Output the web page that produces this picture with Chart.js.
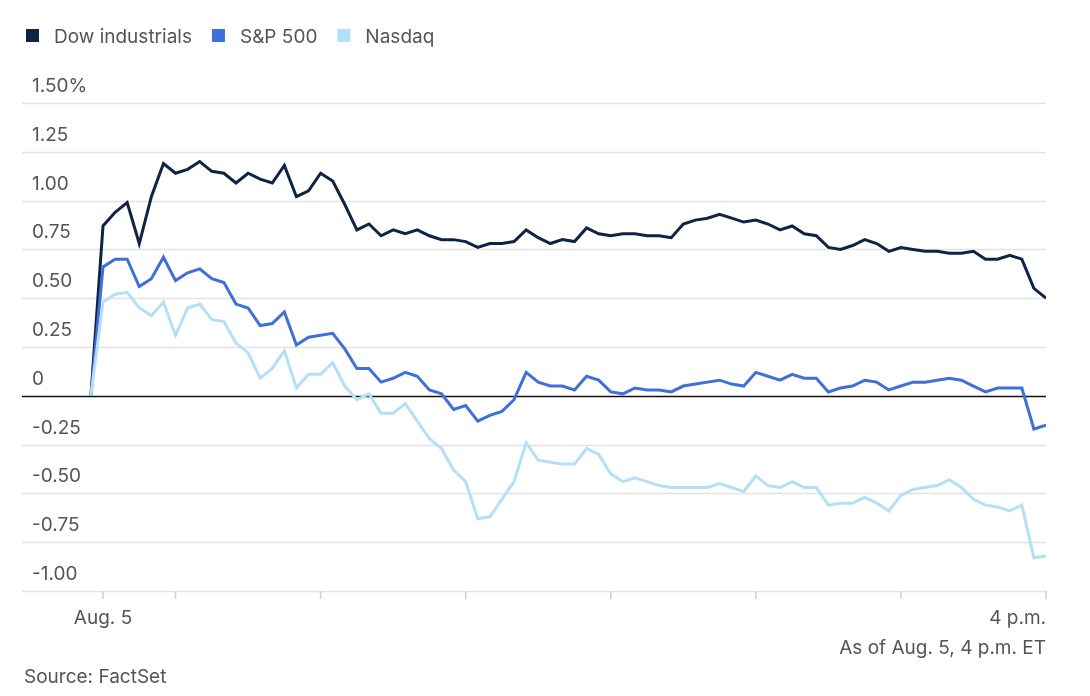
<!DOCTYPE html>
<html lang="en">
  <head>
    <meta charset="UTF-8" />
    <title>Dow, S&amp;P 500, Nasdaq - Aug. 5</title>
    <script src="https://cdn.jsdelivr.net/npm/chart.js"></script>
    <style>
      body { margin: 0; background: #fff; }
      canvas { display: block; }
    </style>
  </head>
  <body>
    <canvas id="markets" width="1090" height="696"></canvas>

    <script>
      // minutes after midnight, 5-minute steps from 9:25 (previous close) to 16:00
      const startMinute = 565;
      const stepMinutes = 5;

      const dow = [
        0, 0.87, 0.94, 0.99, 0.78, 1.02, 1.19, 1.14, 1.16, 1.2, 1.15, 1.14, 1.09, 1.14, 1.11, 1.09,
        1.18, 1.02, 1.05, 1.14, 1.1, 0.98, 0.85, 0.88, 0.82, 0.85, 0.83, 0.85, 0.82, 0.8, 0.8, 0.79,
        0.76, 0.78, 0.78, 0.79, 0.85, 0.81, 0.78, 0.8, 0.79, 0.86, 0.83, 0.82, 0.83, 0.83, 0.82, 0.82,
        0.81, 0.88, 0.9, 0.91, 0.93, 0.91, 0.89, 0.9, 0.88, 0.85, 0.87, 0.83, 0.82, 0.76, 0.75, 0.77,
        0.8, 0.78, 0.74, 0.76, 0.75, 0.74, 0.74, 0.73, 0.73, 0.74, 0.7, 0.7, 0.72, 0.7, 0.55, 0.5,
      ];
      const sp500 = [
        0, 0.66, 0.7, 0.7, 0.56, 0.6, 0.71, 0.59, 0.63, 0.65, 0.6, 0.58, 0.47, 0.45, 0.36, 0.37,
        0.43, 0.26, 0.3, 0.31, 0.32, 0.24, 0.14, 0.14, 0.07, 0.09, 0.12, 0.1, 0.03, 0.01, -0.07, -0.05,
        -0.13, -0.1, -0.08, -0.02, 0.12, 0.07, 0.05, 0.05, 0.03, 0.1, 0.08, 0.02, 0.01, 0.04, 0.03, 0.03,
        0.02, 0.05, 0.06, 0.07, 0.08, 0.06, 0.05, 0.12, 0.1, 0.08, 0.11, 0.09, 0.09, 0.02, 0.04, 0.05,
        0.08, 0.07, 0.03, 0.05, 0.07, 0.07, 0.08, 0.09, 0.08, 0.05, 0.02, 0.04, 0.04, 0.04, -0.17, -0.15,
      ];
      const nasdaq = [
        0, 0.48, 0.52, 0.53, 0.45, 0.41, 0.48, 0.31, 0.45, 0.47, 0.39, 0.38, 0.27, 0.22, 0.09, 0.14,
        0.23, 0.04, 0.11, 0.11, 0.17, 0.05, -0.02, 0.01, -0.09, -0.09, -0.04, -0.13, -0.22, -0.27, -0.38, -0.44,
        -0.63, -0.62, -0.53, -0.44, -0.24, -0.33, -0.34, -0.35, -0.35, -0.27, -0.3, -0.4, -0.44, -0.42, -0.44, -0.46,
        -0.47, -0.47, -0.47, -0.47, -0.45, -0.47, -0.49, -0.41, -0.46, -0.47, -0.44, -0.47, -0.47, -0.56, -0.55, -0.55,
        -0.52, -0.55, -0.59, -0.51, -0.48, -0.47, -0.46, -0.43, -0.47, -0.53, -0.56, -0.57, -0.59, -0.56, -0.83, -0.82,
      ];

      const yTicks = [1.5, 1.25, 1.0, 0.75, 0.5, 0.25, 0, -0.25, -0.5, -0.75, -1.0];
      const yTickLabels = ["1.50%", "1.25", "1.00", "0.75", "0.50", "0.25", "0", "-0.25", "-0.50", "-0.75", "-1.00"];
      const xTickMinutes = [570, 600, 660, 720, 780, 840, 900, 960];
      const xLabelMinutes = [570, 960];
      const xLabels = ["Aug. 5", "4 p.m."];

      const seriesNames = ["Dow industrials", "S&P 500", "Nasdaq"];
      const seriesColors = ["#0f2346", "#3f6fd8", "#b3e0f7"];

      const toPoints = (vals) => vals.map((v, i) => ({ x: startMinute + stepMinutes * i, y: v }));

      const font = "Inter, 'Noto Sans', sans-serif";
      const textColor = "#555";

      // grid, axis labels, legend and notes drawn by hand
      const decorations = {
        id: "decorations",
        beforeDatasetsDraw(chart) {
          const { ctx, chartArea: a, scales } = chart;
          ctx.save();
          yTicks.forEach((t) => {
            const y = Math.round(scales.y.getPixelForValue(t)) + 0.5;
            ctx.strokeStyle = t === 0 ? "#111" : "#e3e3e3";
            ctx.lineWidth = t === 0 ? 1.5 : 1.5;
            ctx.beginPath();
            ctx.moveTo(a.left, y);
            ctx.lineTo(a.right, y);
            ctx.stroke();
          });
          ctx.strokeStyle = "#cfcfcf";
          ctx.lineWidth = 1.5;
          xTickMinutes.forEach((m) => {
            const x = scales.x.getPixelForValue(m);
            ctx.beginPath();
            ctx.moveTo(x, a.bottom);
            ctx.lineTo(x, a.bottom + 8);
            ctx.stroke();
          });
          ctx.restore();
        },
        afterDraw(chart) {
          const { ctx, chartArea: a, scales } = chart;
          ctx.save();
          ctx.fillStyle = textColor;
          ctx.font = "19px " + font;
          ctx.textBaseline = "alphabetic";
          ctx.textAlign = "left";
          yTicks.forEach((t, i) => {
            const y = scales.y.getPixelForValue(t);
            ctx.fillText(yTickLabels[i], 32, y - 11);
          });
          ctx.textAlign = "center";
          ctx.fillText(xLabels[0], scales.x.getPixelForValue(xLabelMinutes[0]), 624);
          ctx.textAlign = "right";
          ctx.fillText(xLabels[1], scales.x.getPixelForValue(xLabelMinutes[1]), 624);
          ctx.fillText("As of Aug. 5, 4 p.m. ET", 1046, 654);
          ctx.textAlign = "left";
          ctx.fillText("Source: FactSet", 24, 683);

          // legend
          let x = 26;
          seriesNames.forEach((name, i) => {
            ctx.fillStyle = seriesColors[i];
            ctx.fillRect(x, 29, 13, 13);
            ctx.fillStyle = textColor;
            ctx.fillText(name, x + 28, 43);
            x += 28 + ctx.measureText(name).width + 20;
          });
          ctx.restore();
        },
      };

      new Chart(document.getElementById("markets"), {
        type: "line",
        data: {
          datasets: seriesNames.map((name, i) => ({
            label: name,
            data: toPoints([dow, sp500, nasdaq][i]),
            borderColor: seriesColors[i],
            borderWidth: 3,
            pointRadius: 0,
            tension: 0,
          })).reverse(),
        },
        options: {
          responsive: false,
          animation: false,
          layout: { padding: { left: 22, right: 44, top: 103, bottom: 105 } },
          plugins: { legend: { display: false }, tooltip: { enabled: false } },
          scales: {
            x: { type: "linear", min: 536.5, max: 960, display: false },
            y: { min: -1.0, max: 1.5, display: false },
          },
        },
        plugins: [decorations],
      });
    </script>
  </body>
</html>
